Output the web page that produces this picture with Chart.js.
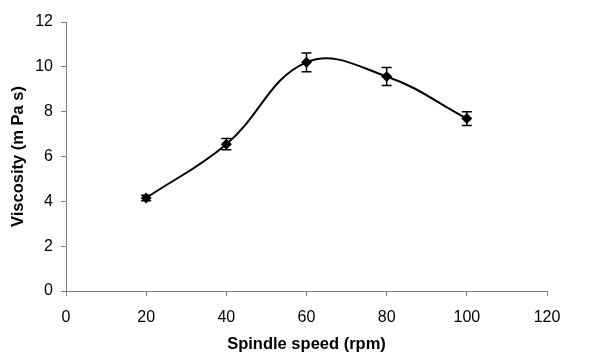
<!DOCTYPE html>
<html>
<head>
<meta charset="utf-8">
<script src="https://cdn.jsdelivr.net/npm/chart.js@4.4.1/dist/chart.umd.min.js"></script>
<style>
    html, body { margin: 0; padding: 0; background: #ffffff; }
    #wrap { position: relative; width: 616px; height: 354px; }
</style>
</head>
<body>
<div id="wrap"><canvas id="chart" width="616" height="354"></canvas></div>
<script>
const spindleSpeeds = [20, 40, 60, 80, 100];
const viscosity = [4.15, 6.55, 10.2, 9.57, 7.69];
const viscosityError = [0.12, 0.25, 0.42, 0.4, 0.31];

const xTicks = [0, 20, 40, 60, 80, 100, 120];
const yTicks = [0, 2, 4, 6, 8, 10, 12];

const axisColor = '#808080';
const textColor = '#000000';
const fontFamily = '"Liberation Sans", Arial, sans-serif';

const points = spindleSpeeds.map((speed, i) => ({x: speed, y: viscosity[i]}));

// Error bars drawn with the chart's own scales
const errorBars = {
    id: 'errorBars',
    afterDatasetsDraw(c) {
        const ctx = c.ctx;
        const yScale = c.scales.y;
        const meta = c.getDatasetMeta(0);
        ctx.save();
        ctx.strokeStyle = '#000000';
        ctx.lineWidth = 1.5;
        meta.data.forEach((pt, i) => {
            const top = yScale.getPixelForValue(viscosity[i] + viscosityError[i]);
            const bottom = yScale.getPixelForValue(viscosity[i] - viscosityError[i]);
            ctx.beginPath();
            ctx.moveTo(pt.x, top);
            ctx.lineTo(pt.x, bottom);
            ctx.moveTo(pt.x - 5, top);
            ctx.lineTo(pt.x + 5, top);
            ctx.moveTo(pt.x - 5, bottom);
            ctx.lineTo(pt.x + 5, bottom);
            ctx.stroke();
        });
        ctx.restore();
    },
};

new Chart(document.getElementById('chart'), {
    type: 'line',
    data: {
        datasets: [{
            label: 'Viscosity',
            data: points,
            borderColor: '#000000',
            borderWidth: 2,
            tension: 0.4,
            fill: false,
            pointStyle: 'rectRot',
            pointRadius: 5.5,
            pointBackgroundColor: '#000000',
            pointBorderColor: '#000000',
            pointBorderWidth: 0,
        }],
    },
    options: {
        responsive: false,
        animation: false,
        layout: {
            padding: {top: 22, right: 69, bottom: 0, left: 0},
        },
        plugins: {
            legend: {display: false},
            tooltip: {enabled: false},
        },
        scales: {
            x: {
                type: 'linear',
                min: 0,
                max: 120,
                afterBuildTicks: (scale) => {
                    scale.ticks = xTicks.map((v) => ({value: v}));
                },
                afterFit: (scale) => {
                    scale.height = 63;
                },
                border: {display: true, color: axisColor, width: 1},
                grid: {
                    display: true,
                    drawOnChartArea: false,
                    drawTicks: true,
                    tickLength: 5,
                    color: axisColor,
                },
                ticks: {
                    color: textColor,
                    padding: 12,
                    maxRotation: 0,
                    font: {family: fontFamily, size: 16},
                },
                title: {
                    display: true,
                    text: 'Spindle speed (rpm)',
                    color: textColor,
                    padding: {top: 10, bottom: 0},
                    font: {family: fontFamily, size: 16.5, weight: 'bold'},
                },
            },
            y: {
                type: 'linear',
                min: 0,
                max: 12,
                afterBuildTicks: (scale) => {
                    scale.ticks = yTicks.map((v) => ({value: v}));
                },
                afterFit: (scale) => {
                    scale.width = 66;
                },
                border: {display: true, color: axisColor, width: 1},
                grid: {
                    display: true,
                    drawOnChartArea: false,
                    drawTicks: true,
                    tickLength: 5,
                    color: axisColor,
                },
                ticks: {
                    color: textColor,
                    padding: 8,
                    font: {family: fontFamily, size: 16},
                },
                title: {
                    display: true,
                    text: 'Viscosity (m Pa s)',
                    color: textColor,
                    padding: {top: 9, bottom: 4},
                    font: {family: fontFamily, size: 16.5, weight: 'bold'},
                },
            },
        },
    },
    plugins: [errorBars],
});
</script>
</body>
</html>
